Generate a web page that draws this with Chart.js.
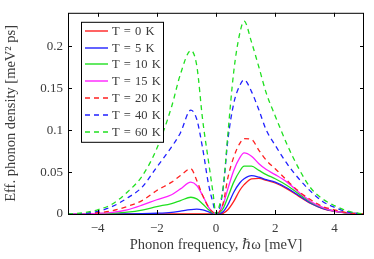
<!DOCTYPE html>
<html>
<head>
<meta charset="utf-8">
<script src="https://cdn.jsdelivr.net/npm/chart.js@4/dist/chart.umd.min.js"></script>
<style>
  html, body { margin: 0; padding: 0; background: #fff; }
  #wrap { width: 374px; height: 259px; }
</style>
</head>
<body>
<div id="wrap"><canvas id="chart" width="374" height="259"></canvas></div>
<script>
// Frequency grid (meV)
const freq = [-5, -4.5, -4, -3.5, -3, -2.5, -2, -1.5, -1.2, -0.85, -0.65, -0.45, -0.25, -0.1, 0,
  0.1, 0.25, 0.4, 0.6, 0.8, 0.95, 1.2, 1.45, 1.7, 2, 2.4, 2.8, 3.2, 3.6, 4, 4.5, 5];

// Effective phonon density per temperature (meV^2 ps)
const dens0K  = [0, 0, 0, 0, 0, 0, 0, 0, 0, 0, 0, 0, 0, 0, 0,
  0, 0.001, 0.005, 0.015, 0.028, 0.035, 0.042, 0.0425, 0.040, 0.037, 0.030, 0.021, 0.0125, 0.0065, 0.0032, 0.001, 0];
const dens5K  = [0, 0, 0, 0, 0.0002, 0.0004, 0.0009, 0.002, 0.0035, 0.0052, 0.0057, 0.0048, 0.0025, 0.0005, 0,
  0.0003, 0.003, 0.011, 0.026, 0.037, 0.042, 0.0458, 0.044, 0.041, 0.038, 0.031, 0.022, 0.013, 0.0068, 0.0033, 0.001, 0];
const dens10K = [0, 0, 0.0003, 0.001, 0.0022, 0.0047, 0.0088, 0.0125, 0.016, 0.020, 0.018, 0.012, 0.005, 0.001, 0,
  0.001, 0.007, 0.020, 0.038, 0.051, 0.057, 0.057, 0.052, 0.047, 0.042, 0.034, 0.024, 0.014, 0.0075, 0.0035, 0.001, 0];
const dens15K = [0, 0.0001, 0.0008, 0.002, 0.005, 0.0105, 0.017, 0.023, 0.030, 0.038, 0.034, 0.022, 0.008, 0.002, 0,
  0.002, 0.012, 0.030, 0.052, 0.067, 0.073, 0.069, 0.060, 0.053, 0.047, 0.038, 0.026, 0.015, 0.008, 0.0035, 0.001, 0];
const dens20K = [0, 0.0003, 0.0015, 0.004, 0.009, 0.016, 0.028, 0.038, 0.046, 0.054, 0.040, 0.022, 0.008, 0.002, 0,
  0.002, 0.014, 0.043, 0.068, 0.084, 0.090, 0.089, 0.076, 0.064, 0.054, 0.040, 0.027, 0.017, 0.009, 0.005, 0.001, 0];
const dens40K = [0, 0.0005, 0.003, 0.009, 0.019, 0.032, 0.056, 0.080, 0.097, 0.124, 0.113, 0.078, 0.035, 0.013, 0,
  0.004, 0.033, 0.088, 0.132, 0.153, 0.160, 0.146, 0.124, 0.100, 0.082, 0.060, 0.042, 0.027, 0.015, 0.008, 0.002, 0];
const dens60K = [0, 0.0015, 0.005, 0.012, 0.026, 0.045, 0.078, 0.128, 0.167, 0.195, 0.177, 0.112, 0.062, 0.025, 0,
  0.008, 0.034, 0.095, 0.170, 0.215, 0.230, 0.205, 0.175, 0.144, 0.117, 0.083, 0.054, 0.031, 0.018, 0.010, 0.003, 0];

const seriesLabels = ['T = 0 K', 'T = 5 K', 'T = 10 K', 'T = 15 K', 'T = 20 K', 'T = 40 K', 'T = 60 K'];
const seriesData = [dens0K, dens5K, dens10K, dens15K, dens20K, dens40K, dens60K];
const seriesColors = ['#ff2020', '#2020ff', '#20e020', '#ff20ff', '#ff2020', '#2020ff', '#20e020'];
const seriesDashed = [false, false, false, false, true, true, true];

const xTicks = [-4, -2, 0, 2, 4];
const yTicks = [0, 0.05, 0.1, 0.15, 0.2];

const SERIF = '"Liberation Serif", "DejaVu Serif", serif';
const TEXT = '#3a3a3a';

function fmt(v) {
  return String(v).replace('-', '\u2212');
}

// Box around the plot, inward ticks on all four sides, and the framed legend
const matlabFrame = {
  id: 'matlabFrame',
  afterDatasetsDraw(chart) {
    const { ctx, chartArea: a, scales } = chart;
    ctx.save();
    ctx.strokeStyle = '#000';
    ctx.lineWidth = 1;
    ctx.strokeRect(a.left + 0.5, a.top + 0.5, a.right - a.left - 1, a.bottom - a.top);
    const tl = 4;
    ctx.beginPath();
    xTicks.forEach(v => {
      const px = Math.round(scales.x.getPixelForValue(v)) + 0.5;
      ctx.moveTo(px, a.bottom); ctx.lineTo(px, a.bottom - tl);
      ctx.moveTo(px, a.top); ctx.lineTo(px, a.top + tl);
    });
    yTicks.forEach(v => {
      const py = Math.round(scales.y.getPixelForValue(v)) + 0.5;
      ctx.moveTo(a.left, py); ctx.lineTo(a.left + tl, py);
      ctx.moveTo(a.right, py); ctx.lineTo(a.right - tl, py);
    });
    ctx.stroke();

    // legend
    const lx = a.left + 13, ly = a.top + 9, lw = 82, lh = 120;
    ctx.fillStyle = '#fff';
    ctx.fillRect(lx, ly, lw, lh);
    ctx.strokeStyle = '#000';
    ctx.strokeRect(lx + 0.5, ly + 0.5, lw, lh);
    ctx.font = '12.5px ' + SERIF;
    ctx.textBaseline = 'middle';
    chart.data.datasets.forEach((ds, i) => {
      const ry = Math.round(ly + 9 + i * 16.8);
      ctx.strokeStyle = ds.borderColor;
      ctx.lineWidth = 1.4;
      ctx.setLineDash(ds.borderDash || []);
      ctx.beginPath();
      ctx.moveTo(lx + 4, ry); ctx.lineTo(lx + 27, ry);
      ctx.stroke();
      ctx.setLineDash([]);
      ctx.fillStyle = TEXT;
      ctx.fillText(ds.label.replace(/ /g, '\u2004'), lx + 31, ry + 0.5);
    });
    ctx.restore();
  }
};

const datasets = seriesLabels.map((label, i) => ({
  label: label,
  data: freq.map((f, j) => ({ x: f, y: seriesData[i][j] })),
  borderColor: seriesColors[i],
  borderWidth: 1.3,
  borderDash: seriesDashed[i] ? [5, 4] : [],
  pointRadius: 0,
  cubicInterpolationMode: 'monotone',
  order: seriesLabels.length - i
}));

new Chart(document.getElementById('chart'), {
  type: 'line',
  data: { datasets: datasets },
  options: {
    responsive: false,
    animation: false,
    events: [],
    layout: { padding: { top: 9, right: 10, left: 2, bottom: 5 } },
    plugins: {
      legend: { display: false },
      tooltip: { enabled: false }
    },
    scales: {
      x: {
        type: 'linear',
        min: -5,
        max: 5,
        afterBuildTicks: s => { s.ticks = xTicks.map(v => ({ value: v })); },
        afterFit: s => { s.height = 40; },
        grid: { display: false, drawTicks: false },
        border: { display: false },
        ticks: { padding: 7, color: TEXT, font: { family: SERIF, size: 13 }, callback: v => fmt(v) },
        title: {
          display: true,
          text: 'Phonon frequency, \u210F\u03C9 [meV]',
          color: TEXT,
          font: { family: SERIF, size: 14.5 },
          padding: { top: 0, bottom: 0 }
        }
      },
      y: {
        min: 0,
        max: 0.24,
        afterBuildTicks: s => { s.ticks = yTicks.map(v => ({ value: v })); },
        afterFit: s => { s.width = 66; },
        grid: { display: false, drawTicks: false },
        border: { display: false },
        ticks: { padding: 5, color: TEXT, font: { family: SERIF, size: 13 }, callback: v => fmt(v) },
        title: {
          display: true,
          text: 'Eff. phonon density [meV\u00B2 ps]',
          color: TEXT,
          font: { family: SERIF, size: 14.5 },
          padding: { top: 0, bottom: 0 }
        }
      }
    }
  },
  plugins: [matlabFrame]
});
</script>
</body>
</html>
